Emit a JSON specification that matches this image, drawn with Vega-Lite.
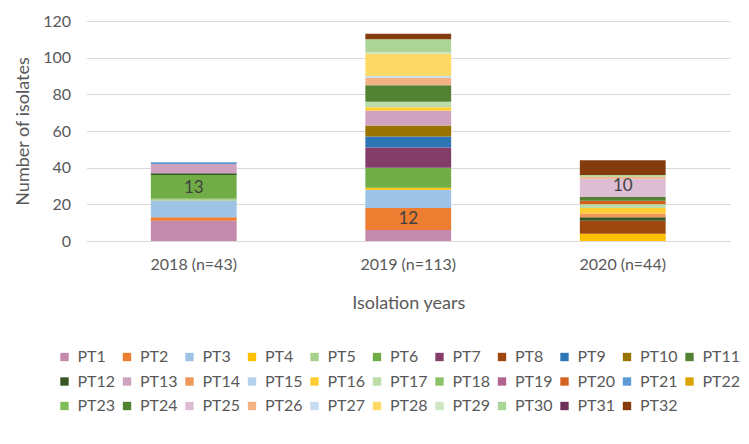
{
  "$schema": "https://vega.github.io/schema/vega-lite/v6.json",
  "autosize": "none",
  "width": 643.5,
  "height": 220,
  "padding": {"left": 86.5, "top": 21, "right": 19, "bottom": 203},
  "background": "white",
  "config": {
    "view": {"stroke": null},
    "font": "Lato",
    "axis": {"labelColor": "#595959", "titleColor": "#595959", "labelFont": "Lato", "titleFont": "Lato", "titleFontWeight": "normal"},
    "legend": {"labelColor": "#595959", "labelFont": "Lato"}
  },
  "data": {"values": [
    {"year": "2018 (n=43)", "pt": "PT1", "idx": 1, "n": 11, "label": ""},
    {"year": "2018 (n=43)", "pt": "PT2", "idx": 2, "n": 2, "label": ""},
    {"year": "2018 (n=43)", "pt": "PT3", "idx": 3, "n": 9, "label": ""},
    {"year": "2018 (n=43)", "pt": "PT5", "idx": 5, "n": 1, "label": ""},
    {"year": "2018 (n=43)", "pt": "PT6", "idx": 6, "n": 13, "label": "13"},
    {"year": "2018 (n=43)", "pt": "PT12", "idx": 12, "n": 1, "label": ""},
    {"year": "2018 (n=43)", "pt": "PT13", "idx": 13, "n": 5, "label": ""},
    {"year": "2018 (n=43)", "pt": "PT21", "idx": 21, "n": 1, "label": ""},
    {"year": "2019 (n=113)", "pt": "PT1", "idx": 1, "n": 6, "label": ""},
    {"year": "2019 (n=113)", "pt": "PT2", "idx": 2, "n": 12, "label": "12"},
    {"year": "2019 (n=113)", "pt": "PT3", "idx": 3, "n": 10, "label": ""},
    {"year": "2019 (n=113)", "pt": "PT4", "idx": 4, "n": 1, "label": ""},
    {"year": "2019 (n=113)", "pt": "PT6", "idx": 6, "n": 11, "label": ""},
    {"year": "2019 (n=113)", "pt": "PT7", "idx": 7, "n": 11, "label": ""},
    {"year": "2019 (n=113)", "pt": "PT9", "idx": 9, "n": 6, "label": ""},
    {"year": "2019 (n=113)", "pt": "PT10", "idx": 10, "n": 6, "label": ""},
    {"year": "2019 (n=113)", "pt": "PT13", "idx": 13, "n": 8, "label": ""},
    {"year": "2019 (n=113)", "pt": "PT16", "idx": 16, "n": 2, "label": ""},
    {"year": "2019 (n=113)", "pt": "PT17", "idx": 17, "n": 3, "label": ""},
    {"year": "2019 (n=113)", "pt": "PT24", "idx": 24, "n": 9, "label": ""},
    {"year": "2019 (n=113)", "pt": "PT26", "idx": 26, "n": 4, "label": ""},
    {"year": "2019 (n=113)", "pt": "PT27", "idx": 27, "n": 1, "label": ""},
    {"year": "2019 (n=113)", "pt": "PT28", "idx": 28, "n": 12, "label": ""},
    {"year": "2019 (n=113)", "pt": "PT29", "idx": 29, "n": 1, "label": ""},
    {"year": "2019 (n=113)", "pt": "PT30", "idx": 30, "n": 7, "label": ""},
    {"year": "2019 (n=113)", "pt": "PT32", "idx": 32, "n": 3, "label": ""},
    {"year": "2020 (n=44)", "pt": "PT4", "idx": 4, "n": 4, "label": ""},
    {"year": "2020 (n=44)", "pt": "PT8", "idx": 8, "n": 7, "label": ""},
    {"year": "2020 (n=44)", "pt": "PT12", "idx": 12, "n": 2, "label": ""},
    {"year": "2020 (n=44)", "pt": "PT14", "idx": 14, "n": 2, "label": ""},
    {"year": "2020 (n=44)", "pt": "PT16", "idx": 16, "n": 3, "label": ""},
    {"year": "2020 (n=44)", "pt": "PT17", "idx": 17, "n": 2, "label": ""},
    {"year": "2020 (n=44)", "pt": "PT20", "idx": 20, "n": 2, "label": ""},
    {"year": "2020 (n=44)", "pt": "PT24", "idx": 24, "n": 2, "label": ""},
    {"year": "2020 (n=44)", "pt": "PT25", "idx": 25, "n": 10, "label": "10"},
    {"year": "2020 (n=44)", "pt": "PT26", "idx": 26, "n": 1, "label": ""},
    {"year": "2020 (n=44)", "pt": "PT30", "idx": 30, "n": 1, "label": ""},
    {"year": "2020 (n=44)", "pt": "PT32", "idx": 32, "n": 8, "label": ""}
  ]},
  "transform": [
    {"stack": "n", "groupby": ["year"], "sort": [{"field": "idx", "order": "ascending"}], "as": ["y0", "y1"]}
  ],
  "encoding": {
    "x": {
      "field": "year", "type": "nominal",
      "sort": ["2018 (n=43)", "2019 (n=113)", "2020 (n=44)"],
      "scale": {"paddingInner": 0.6, "paddingOuter": 0.3},
      "axis": {"title": "Isolation years", "labelAngle": 0, "labelFontSize": 16, "titleFontSize": 18, "labelPadding": 15, "titlePadding": 22, "ticks": false, "domainColor": "#D9D9D9", "grid": false}
    },
    "y": {
      "field": "y0", "type": "quantitative",
      "scale": {"domain": [0, 120]},
      "axis": {"title": "Number of isolates", "values": [0, 20, 40, 60, 80, 100, 120], "labelOverlap": false, "labelFontSize": 16, "titleFontSize": 18, "labelPadding": 16, "titlePadding": 10, "ticks": false, "domain": false, "gridColor": "#D9D9D9"}
    }
  },
  "layer": [
    {
      "mark": {"type": "bar"},
      "encoding": {
        "y2": {"field": "y1"},
        "color": {
          "field": "pt", "type": "nominal",
          "scale": {
            "domain": ["PT1","PT2","PT3","PT4","PT5","PT6","PT7","PT8","PT9","PT10","PT11","PT12","PT13","PT14","PT15","PT16","PT17","PT18","PT19","PT20","PT21","PT22","PT23","PT24","PT25","PT26","PT27","PT28","PT29","PT30","PT31","PT32"],
            "range": ["#C48AAE","#ED7D31","#9DC3E6","#FFC000","#A9D18E","#70AD47","#843C69","#9E480E","#2E75B6","#997300","#548235","#375623","#CFA3BF","#F1975A","#B4D1EC","#FFCD33","#BCDCA8","#8CC168","#B0668F","#D2631E","#5B9BD5","#D9A300","#7DBE57","#548235","#DDBDD3","#F4B183","#C5DCF1","#FFD966","#CEE6C0","#ADD497","#6E3159","#843C0C"]
          },
          "legend": {
            "title": null, "orient": "none", "direction": "horizontal", "columns": 11,
            "legendX": -30, "legendY": 328, "symbolType": "square", "symbolSize": 70,
            "symbolStrokeWidth": 0, "labelFontSize": 16, "labelOffset": 5, "symbolLimit": 0,
            "columnPadding": 3.5, "rowPadding": 8.5, "gridAlign": "each"
          }
        }
      }
    },
    {
      "mark": {"type": "text", "fontSize": 17, "color": "#404040", "baseline": "middle", "dy": -11},
      "encoding": {
        "text": {"field": "label", "type": "nominal"}
      }
    }
  ]
}
